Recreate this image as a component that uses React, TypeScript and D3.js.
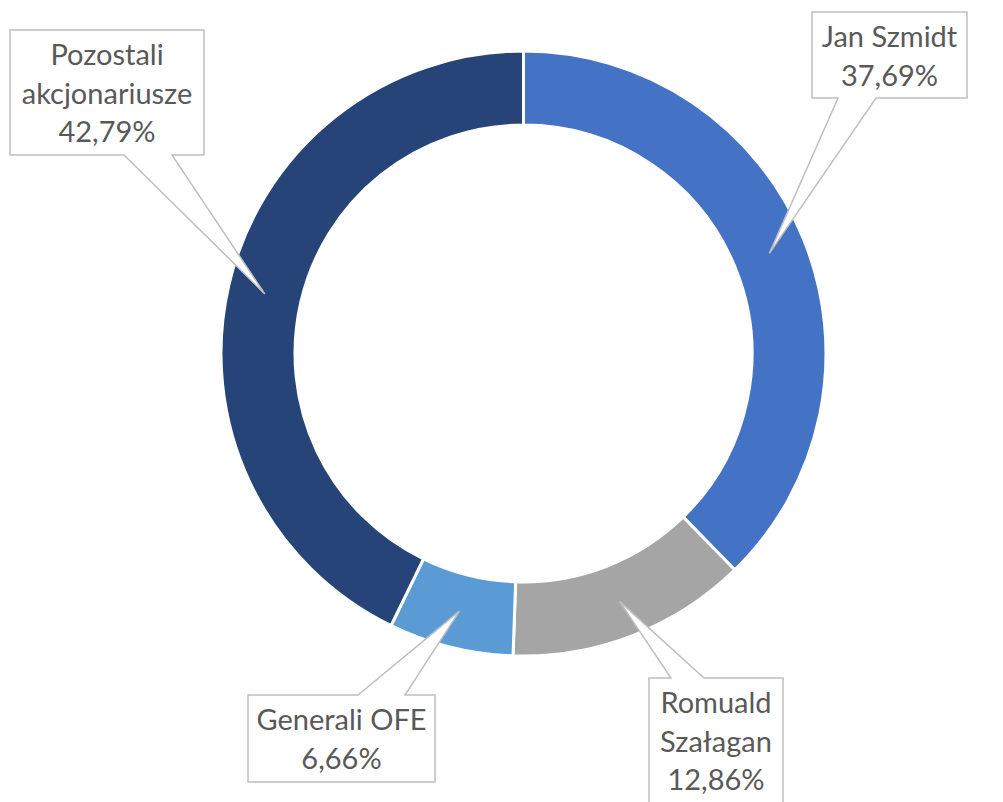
import React from "react";
import * as d3 from "d3";

// shareholders and their stakes (%)
const names = ["Jan Szmidt", "Romuald Szałagan", "Generali OFE", "Pozostali akcjonariusze"];
const shares = [37.69, 12.86, 6.66, 42.79];
const labelLines = [
  ["Jan Szmidt", "37,69%"],
  ["Romuald", "Szałagan", "12,86%"],
  ["Generali OFE", "6,66%"],
  ["Pozostali", "akcjonariusze", "42,79%"],
];
const colors = ["#4472C4", "#A5A5A5", "#5B9BD5", "#264478"];

// callout boxes: x, y, w, h, pointer base from/to (x)
const boxes = [
  { x: 812, y: 12, w: 155, h: 86, b0: 838, b1: 876 },
  { x: 649, y: 678, w: 134, h: 126, b0: 671, b1: 704 },
  { x: 248, y: 695, w: 187, h: 87, b0: 358, b1: 405 },
  { x: 10, y: 30, w: 194, h: 125, b0: 124, b1: 172 },
];

const width = 1003;
const height = 802;
const cx = 523.5;
const cy = 353.5;
const outerR = 302.5;
const innerR = 228.5;

const calloutPath = (b: any, tx: number, ty: number) => {
  const top = ty < b.y;
  const p = d3.path();
  if (top) {
    p.moveTo(b.x, b.y);
    p.lineTo(b.b0, b.y);
    p.lineTo(tx, ty);
    p.lineTo(b.b1, b.y);
    p.lineTo(b.x + b.w, b.y);
    p.lineTo(b.x + b.w, b.y + b.h);
    p.lineTo(b.x, b.y + b.h);
  } else {
    p.moveTo(b.x, b.y);
    p.lineTo(b.x + b.w, b.y);
    p.lineTo(b.x + b.w, b.y + b.h);
    p.lineTo(b.b1, b.y + b.h);
    p.lineTo(tx, ty);
    p.lineTo(b.b0, b.y + b.h);
    p.lineTo(b.x, b.y + b.h);
  }
  p.closePath();
  return p.toString();
};

const App = () => {
  const pie = d3
    .pie<number>()
    .sort(null)
    .value((d) => d);
  const arcs = pie(shares);
  const arc = d3
    .arc<d3.PieArcDatum<number>>()
    .innerRadius(innerR)
    .outerRadius(outerR);

  return (
    <svg width={width} height={height} style={{ position: "absolute", left: 0, top: 0 }}>
      <rect width={width} height={height} fill="#ffffff" />
      <g transform={`translate(${cx},${cy})`}>
        {arcs.map((a, i) => (
          <path
            key={names[i]}
            d={arc(a) as string}
            fill={colors[i]}
            stroke="#ffffff"
            strokeWidth={3}
          />
        ))}
      </g>
      {arcs.map((a, i) => {
        const [px, py] = arc.centroid(a);
        const b = boxes[i];
        const lines = labelLines[i];
        return (
          <g key={"lbl" + i}>
            <path
              d={calloutPath(b, px + cx, py + cy)}
              fill="#ffffff"
              stroke="#BFBFBF"
              strokeWidth={1.5}
            />
            <text
              textAnchor="middle"
              fontFamily="Lato, 'Open Sans', sans-serif"
              fontSize={29}
              fill="#595959"
            >
              {lines.map((t, j) => (
                <tspan key={j} x={b.x + b.w / 2} y={b.y + 35 + j * 38.5}>
                  {t}
                </tspan>
              ))}
            </text>
          </g>
        );
      })}
    </svg>
  );
};

export default App;
